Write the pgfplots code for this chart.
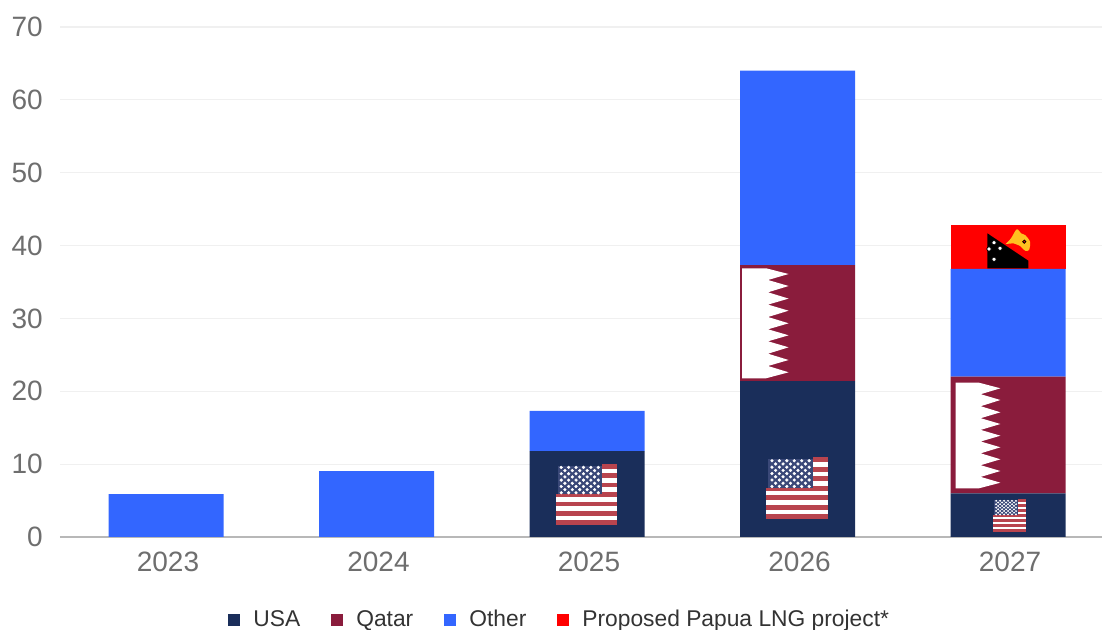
\documentclass[border=0pt]{standalone}
\usepackage{fontspec}
\setmainfont{Liberation Sans}
\usepackage{pgfplots}
\pgfplotsset{compat=1.18}

\definecolor{usa}{HTML}{1A2E5A}
\definecolor{qatar}{HTML}{8A1C3C}
\definecolor{other}{HTML}{3366FF}
\definecolor{papua}{HTML}{FF0000}
\definecolor{ticktext}{HTML}{6E6E6E}
\definecolor{flagred}{HTML}{B8444E}
\definecolor{flagblue}{HTML}{3A4878}

\newcommand{\stripe}[2]{\addplot[fill=flagred, draw=none] coordinates {(0,#1)(1,#1)(1,#2)(0,#2)} --cycle;}

% #1,#2 top left in reference pixels, #3,#4 size in pixels, #5 star size
\newcommand{\usflag}[5]{%
\begin{axis}[
	at={({#1*0.5pt},{(630-#2)*0.5pt})}, anchor=north west,
	scale only axis, width={#3*0.5pt}, height={#4*0.5pt},
	xmin=0, xmax=1, ymin=0, ymax=1, hide axis, clip=false,
]
	\addplot[fill=white, draw=none] coordinates {(0,0)(1,0)(1,1)(0,1)} --cycle;
	\stripe{0}{.0769}
	\stripe{.1538}{.2308}
	\stripe{.3077}{.3846}
	\stripe{.4615}{.5385}
	\stripe{.6154}{.6923}
	\stripe{.7692}{.8462}
	\stripe{.9231}{1}
	\addplot[fill=usa, draw=none] coordinates {(0,.5)(.755,.5)(.755,1)(0,1)} --cycle;
	\addplot[fill=flagblue, draw=none] coordinates {(.03,.5)(.755,.5)(.755,.97)(.03,.97)} --cycle;
	\addplot[only marks, mark=*, mark size=#5, mark options={draw=white, fill=white, line width=0.2pt}] coordinates {
		(.09,.944)(.211,.944)(.332,.944)(.453,.944)(.574,.944)(.695,.944)
		(.15,.892)(.271,.892)(.392,.892)(.513,.892)(.634,.892)
		(.09,.84)(.211,.84)(.332,.84)(.453,.84)(.574,.84)(.695,.84)
		(.15,.788)(.271,.788)(.392,.788)(.513,.788)(.634,.788)
		(.09,.736)(.211,.736)(.332,.736)(.453,.736)(.574,.736)(.695,.736)
		(.15,.684)(.271,.684)(.392,.684)(.513,.684)(.634,.684)
		(.09,.632)(.211,.632)(.332,.632)(.453,.632)(.574,.632)(.695,.632)
		(.15,.58)(.271,.58)(.392,.58)(.513,.58)(.634,.58)
		(.09,.528)(.211,.528)(.332,.528)(.453,.528)(.574,.528)(.695,.528)
	};
\end{axis}%
}

\begin{document}
\begin{tikzpicture}
\useasboundingbox (0,0) rectangle (551pt,315pt);

\begin{axis}[
	at={(30pt,46.5pt)}, anchor=south west,
	scale only axis, width=521pt, height=255pt,
	ybar stacked, bar width=57.5pt,
	xmin=-0.5036, xmax=4.4466, ymin=0, ymax=70,
	axis x line=bottom, axis y line=left,
	x axis line style={color=black!28, line width=0.7pt, -},
	y axis line style={draw=none},
	xtick={0,1,2,3,4}, xticklabels={2023,2024,2025,2026,2027},
	ytick={0,10,...,70},
	tick style={draw=none},
	ymajorgrids, major grid style={color=black!6, line width=0.6pt},
	/pgf/number format/assume math mode=true,
	/pgf/number format/1000 sep={},
	tick label style={font=\fontsize{14}{16}\selectfont, text=ticktext},
	xticklabel style={xshift=1pt, yshift=-2pt},
	yticklabel style={xshift=-3pt},
	legend style={
		at={(0.1555,-0.1627)}, anchor=west, draw=none, fill=none,
		legend columns=-1, font=\fontsize{11.4}{13}\selectfont, text=black!80,
		/tikz/every odd column/.append style={column sep=4.5pt},
		/tikz/every even column/.append style={column sep=13.5pt},
	},
	legend image code/.code={\fill[#1] (0pt,-3pt) rectangle (6pt,3pt);},
]
	\addplot[fill=usa, draw=none] coordinates {(0,0)(1,0)(2,11.8)(3,21.4)(4,6)};
	\addplot[fill=qatar, draw=none] coordinates {(0,0)(1,0)(2,0)(3,15.9)(4,16)};
	\addplot[fill=other, draw=none] coordinates {(0,5.9)(1,9.05)(2,5.5)(3,26.7)(4,14.8)};
	\addplot[fill=papua, draw=none] coordinates {(0,0)(1,0)(2,0)(3,0)(4,6)};
	\legend{USA,Qatar,Other,Proposed Papua LNG project*}
\end{axis}

% flags, in reference pixels
\begin{axis}[
	at={(0pt,0pt)}, anchor=south west,
	scale only axis, width=551pt, height=315pt,
	xmin=0, xmax=1102, ymin=0, ymax=630, y dir=reverse, hide axis,
]
	\addplot[fill=white, draw=none] coordinates {
		(742,268.3)(766,268.3)(788.6,274)(768,280)(788.6,286)(768,292.3)(788.6,298.6)
		(768,304.6)(788.6,310.7)(768,317)(788.6,323.3)(768,329.3)(788.6,335.3)
		(768,341.3)(788.6,347.3)(768,353.7)(788.6,360)(768,366)(788.6,372.3)
		(766,378.3)(742,378.3)
	} --cycle;
	\addplot[fill=white, draw=none] coordinates {
		(955.7,382.7)(979,382.7)(1000.4,388.3)(980.7,394.2)(1000.4,400)(980.7,406.2)
		(1000.4,412.3)(980.7,418.2)(1000.4,424)(980.7,429.9)(1000.4,435.7)(980.7,441.5)
		(1000.4,447.3)(980.7,453.3)(1000.4,459.3)(980.7,465.2)(1000.4,471)(980.7,476.9)
		(1000.4,482.7)(979,488.3)(955.7,488.3)
	} --cycle;
	\addplot[fill=black, draw=none] coordinates {
		(987.3,233.3)(1028.3,260.7)(1028.3,268.3)(987.3,268.3)
	} --cycle;
	\addplot[only marks, mark=*, mark size=1.1pt, mark options={draw=none, fill=white}] coordinates {
		(994,242.7)(1000,248.3)(989,249)(994,259.3)
	};
	\addplot[fill={rgb,255:red,255;green,192;blue,32}, draw=none, smooth] coordinates {
		(1005.7,244)(1011,238.3)(1016.7,229.3)(1021,233.3)(1025,235)(1030,241.7)
		(1029,250)(1025,250.7)(1020,246)(1013.3,243.3)
	} --cycle;
	\addplot[only marks, mark=*, mark size=0.8pt, mark options={draw=none, fill=papua}] coordinates {(1024.3,241.7)};
\end{axis}

\usflag{555.7}{464}{61.3}{61}{0.7pt}
\usflag{766.4}{457.3}{61.5}{61.7}{0.7pt}
\usflag{993.2}{499}{32.8}{32.7}{0.35pt}
\end{tikzpicture}
\end{document}
